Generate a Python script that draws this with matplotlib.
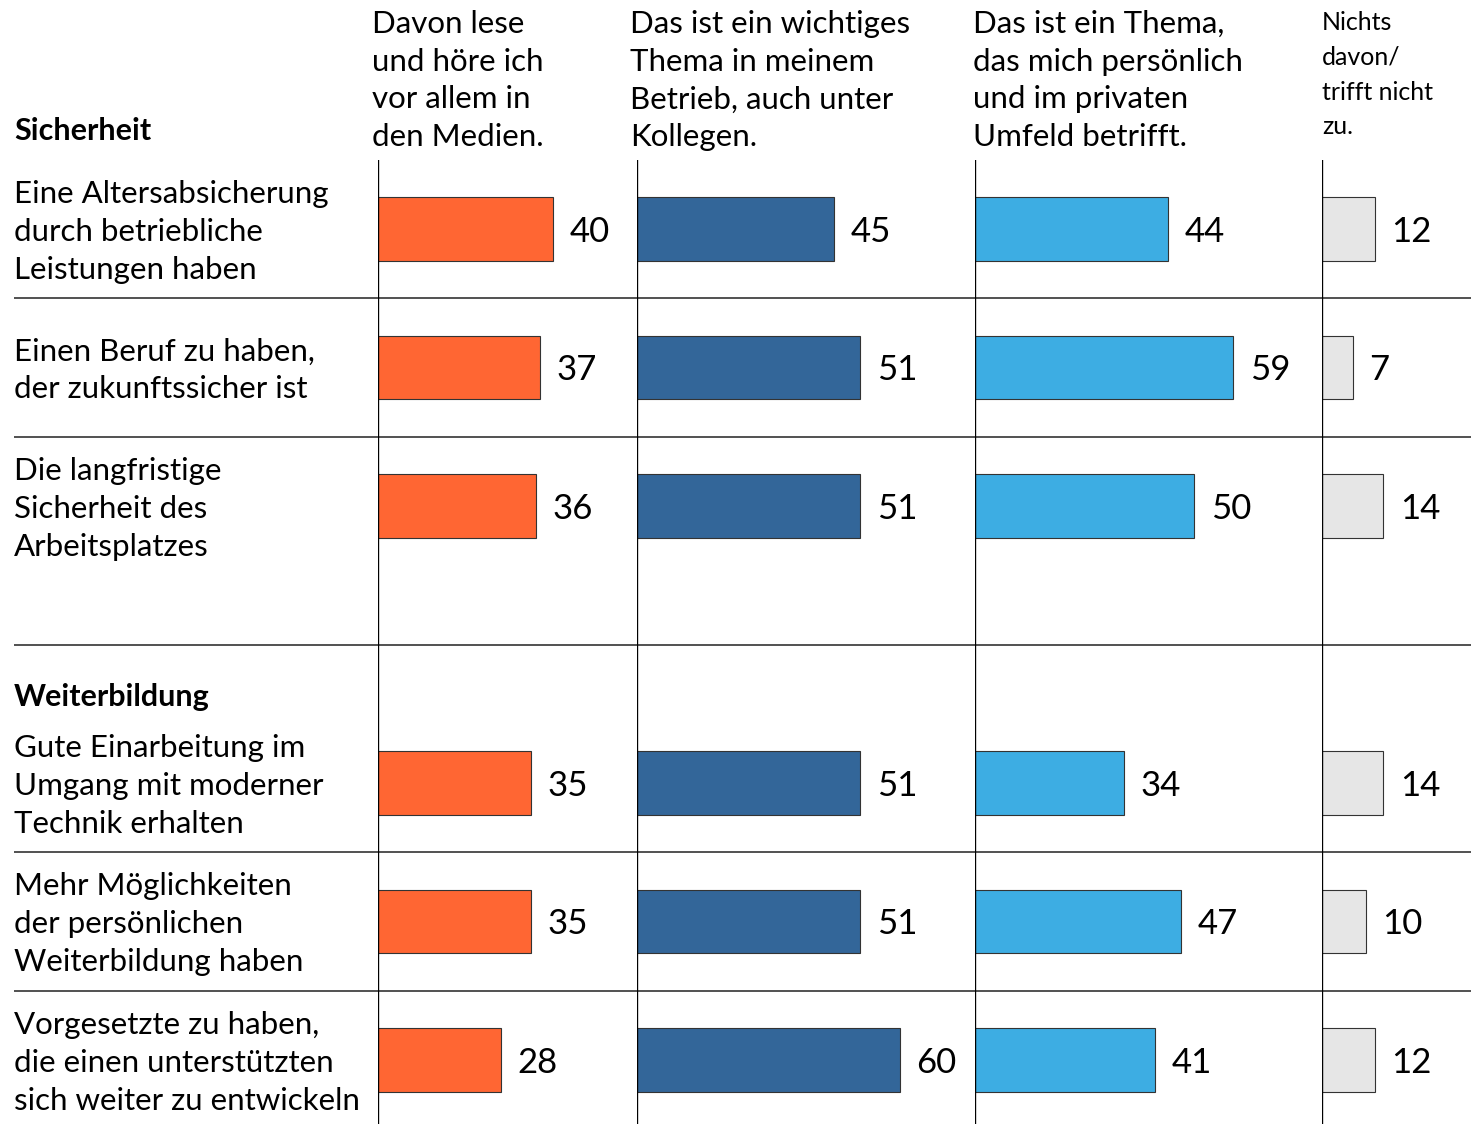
import matplotlib.pyplot as plt

plt.rcParams['font.family'] = ['Lato', 'DejaVu Sans']

items = [
    "Eine Altersabsicherung\ndurch betriebliche\nLeistungen haben",
    "Einen Beruf zu haben,\nder zukunftssicher ist",
    "Die langfristige\nSicherheit des\nArbeitsplatzes",
    "Gute Einarbeitung im\nUmgang mit moderner\nTechnik erhalten",
    "Mehr Möglichkeiten\nder persönlichen\nWeiterbildung haben",
    "Vorgesetzte zu haben,\ndie einen unterstützten\nsich weiter zu entwickeln",
]
groups = ["Sicherheit", "Weiterbildung"]
columns = [
    "Davon lese\nund höre ich\nvor allem in\nden Medien.",
    "Das ist ein wichtiges\nThema in meinem\nBetrieb, auch unter\nKollegen.",
    "Das ist ein Thema,\ndas mich persönlich\nund im privaten\nUmfeld betrifft.",
    "Nichts\ndavon/\ntrifft nicht\nzu.",
]
medien = [40, 37, 36, 35, 35, 28]
betrieb = [45, 51, 51, 51, 51, 60]
privat = [44, 59, 50, 34, 47, 41]
nichts = [12, 7, 14, 14, 10, 12]
series = [medien, betrieb, privat, nichts]
colors = ["#FF6633", "#336699", "#3DADE3", "#E6E6E6"]

W, H = 1471, 1124
fig = plt.figure(figsize=(W / 100, H / 100), dpi=100)

# row layout (row units), one gap row between the two groups
ypos = [0, 1, 2, 4, 5, 6]
row_px = 138.5
y0_px = 229
top_px = 160
ytop = (top_px - y0_px) / row_px
ybot = (H - y0_px) / row_px
ax_h = (H - top_px) / H

# background axes for separators and row labels
bg = fig.add_axes([0, 0, 1, ax_h])
bg.set_xlim(0, W)
bg.set_ylim(ybot, ytop)
bg.axis('off')
bg.hlines([0.5, 1.5, 3.0, 4.5, 5.5], 14, W, color='#222222', lw=1.1)
for y, lab in zip(ypos, items):
    bg.text(14, y + 0.02, lab, ha='left', va='center', fontsize=22.5,
            linespacing=1.43)

fig.text(14 / W, 1 - 131 / H, groups[0], fontsize=22, fontweight='bold',
         ha='left', va='center')
fig.text(14 / W, 1 - 697 / H, groups[1], fontsize=22, fontweight='bold',
         ha='left', va='center')

# column axes
col_x = [378, 637, 975, 1322]
head_x = [372, 630, 973, 1322]
px_per_unit = 4.38
edges = col_x + [W]
for i in range(4):
    x0, x1 = edges[i], edges[i + 1]
    ax = fig.add_axes([x0 / W, 0, (x1 - x0) / W, ax_h])
    ax.set_xlim(0, (x1 - x0) / px_per_unit)
    ax.set_ylim(ybot, ytop)
    ax.axis('off')
    ax.barh(ypos, series[i], height=0.455, color=colors[i],
            edgecolor='#333333', linewidth=0.8)
    ax.axvline(0, color='black', lw=1.7)
    for y, v in zip(ypos, series[i]):
        ax.text(v + 3.8, y + 0.02, str(v), ha='left', va='center',
                fontsize=25)
    if i < 3:
        fig.text(head_x[i] / W, 1 - 10 / H, columns[i], ha='left', va='top',
                 fontsize=22.5, linespacing=1.42)
    else:
        fig.text(head_x[i] / W, 1 - 11 / H, columns[i], ha='left', va='top',
                 fontsize=18, linespacing=1.62)

fig.savefig("out.png", dpi=100)
